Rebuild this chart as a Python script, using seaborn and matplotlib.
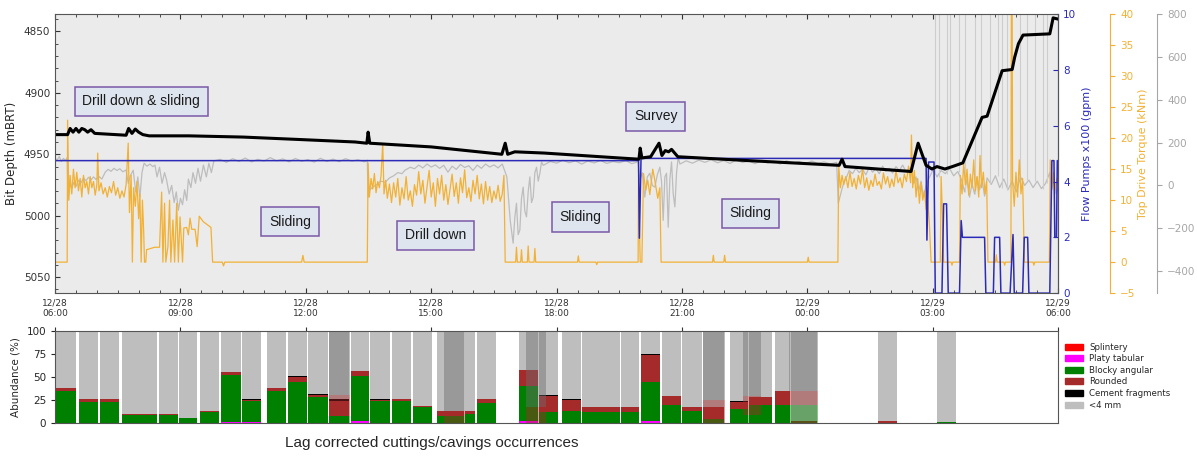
"""
Drilling log: bit depth, flow, torque and rotary traces with cuttings/cavings abundance
"""

import numpy as np
import matplotlib
matplotlib.use("Agg")
import matplotlib.pyplot as plt
import matplotlib.dates as mdates
from matplotlib.patches import Patch
from matplotlib.ticker import MultipleLocator
import seaborn as sns

sns.set_style("ticks")
plt.rcParams['font.family'] = ['DejaVu Sans']

# ---------------------------------------------------------------
# Data (hours after 12/28 06:00, value)
# ---------------------------------------------------------------
depth_pts = [(0.00, 4934), (0.30, 4934), (0.36, 4929), (0.43, 4932), (0.50, 4929), (0.57, 4932),
             (0.64, 4929), (0.71, 4930), (0.78, 4932), (0.86, 4930), (0.95, 4933), (1.70, 4934.5),
             (1.76, 4929), (1.84, 4933), (1.92, 4929.5), (2.00, 4932), (2.10, 4934), (2.25, 4935),
             (3.20, 4935), (4.50, 4936), (5.86, 4938), (7.18, 4940), (7.46, 4941), (7.49, 4932),
             (7.53, 4941), (9.00, 4944), (10.69, 4950), (10.77, 4941), (10.83, 4950), (11.00, 4948),
             (11.70, 4949), (13.50, 4953), (13.97, 4954), (14.00, 4945), (14.04, 4953), (14.25, 4952),
             (14.45, 4941), (14.52, 4951), (14.60, 4947), (14.68, 4948), (14.75, 4946), (14.90, 4952),
             (16.50, 4955), (18.76, 4959), (18.83, 4954), (18.90, 4960), (20.48, 4964), (20.65, 4941),
             (20.84, 4959), (20.98, 4962), (21.10, 4960), (21.29, 4962), (21.47, 4960), (21.72, 4957),
             (22.18, 4920), (22.30, 4919), (22.66, 4882), (22.90, 4881), (22.96, 4871), (23.05, 4860),
             (23.16, 4853), (23.80, 4852), (23.88, 4839), (24.00, 4840)]

flow_pts = [(0.00, 4.75), (13.96, 4.75), (13.98, 1.97), (14.02, 4.83), (20.84, 4.83), (20.86, 1.9),
            (20.90, 4.7), (21.03, 4.7), (21.06, 0.0), (21.22, 0.0), (21.26, 3.2), (21.33, 3.2),
            (21.37, 0.0), (21.64, 0.0), (21.68, 2.6), (21.71, 2.0), (22.24, 2.0), (22.27, 0.0),
            (22.45, 0.0), (22.48, 2.0), (22.60, 2.0), (22.63, 0.0), (22.85, 0.0), (22.92, 2.1),
            (22.95, 0.0), (23.15, 0.0), (23.19, 2.0), (23.27, 2.0), (23.30, 0.0), (23.80, 0.0),
            (23.85, 4.75), (23.90, 4.75), (23.92, 2.0), (23.96, 2.0), (23.98, 4.75), (24.00, 4.75)]

torque_pts = [(0.00, 0.0), (0.29, 0.0), (0.30, 22.9), (0.33, 10.0), (0.36, 14.0), (0.40, 11.0),
              (0.44, 15.0), (0.48, 12.0), (0.52, 14.5), (0.56, 11.5), (0.60, 13.5), (0.64, 10.5),
              (0.68, 14.0), (0.72, 12.0), (0.76, 13.0), (0.80, 11.0), (0.84, 13.8), (0.88, 12.0),
              (0.92, 13.0), (0.96, 10.8), (1.00, 12.5), (1.02, 17.6), (1.05, 11.5), (1.10, 12.8),
              (1.15, 11.0), (1.20, 12.0), (1.25, 10.5), (1.30, 12.2), (1.35, 11.2), (1.40, 13.0),
              (1.45, 10.8), (1.50, 12.0), (1.55, 10.3), (1.60, 11.5), (1.65, 10.5), (1.70, 12.5),
              (1.75, 19.2), (1.78, 8.0), (1.82, 14.0), (1.85, 0.0), (1.88, 12.0), (1.92, 9.0),
              (1.96, 13.0), (2.00, 7.0), (2.03, 11.0), (2.06, 0.0), (2.09, 10.0), (2.12, 5.0),
              (2.14, 0.0), (2.17, 0.0), (2.19, 2.0), (2.38, 2.4), (2.50, 2.4), (2.55, 11.3),
              (2.58, 0.0), (2.62, 9.5), (2.65, 0.0), (2.70, 2.5), (2.74, 10.0), (2.77, 0.0),
              (2.82, 6.8), (2.86, 0.0), (2.91, 9.5), (2.95, 0.0), (2.99, 7.3), (3.05, 0.0),
              (3.08, 5.5), (3.15, 5.6), (3.19, 4.4), (3.23, 7.1), (3.27, 5.3), (3.35, 5.3),
              (3.40, 2.5), (3.45, 7.4), (3.55, 6.5), (3.65, 6.0), (3.73, 5.6), (3.77, 0.0),
              (4.00, 0.0), (4.03, -0.6), (4.06, 0.0), (5.90, 0.0), (5.93, 1.1), (5.96, 0.0),
              (7.47, 0.0), (7.49, 16.0), (7.52, 10.5), (7.56, 13.5), (7.60, 11.8), (7.64, 14.3),
              (7.68, 11.2), (7.72, 13.0), (7.76, 12.0), (7.80, 14.0), (7.84, 19.1), (7.87, 11.0),
              (7.91, 13.2), (7.95, 10.3), (8.00, 12.6), (8.05, 9.6), (8.10, 12.8), (8.15, 10.5),
              (8.20, 13.5), (8.25, 9.2), (8.30, 12.0), (8.35, 10.2), (8.40, 13.8), (8.45, 10.0),
              (8.50, 11.5), (8.55, 9.0), (8.60, 12.5), (8.65, 10.8), (8.70, 14.6), (8.75, 11.0),
              (8.80, 13.2), (8.85, 9.5), (8.90, 12.2), (8.95, 14.8), (9.00, 10.5), (9.05, 12.8),
              (9.10, 9.0), (9.15, 13.5), (9.20, 11.0), (9.25, 14.0), (9.30, 10.0), (9.35, 12.5),
              (9.40, 9.3), (9.45, 11.8), (9.50, 14.2), (9.55, 10.6), (9.60, 12.8), (9.65, 9.5),
              (9.70, 13.6), (9.75, 11.2), (9.80, 14.9), (9.85, 10.4), (9.90, 12.0), (9.95, 9.8),
              (10.00, 13.2), (10.05, 11.0), (10.10, 14.0), (10.15, 10.2), (10.20, 12.6), (10.25, 9.4),
              (10.30, 13.0), (10.35, 10.0), (10.40, 12.2), (10.45, 9.6), (10.50, 11.5), (10.55, 10.2),
              (10.60, 12.4), (10.65, 9.8), (10.70, 11.0), (10.74, 14.0), (10.77, 0.0), (11.02, 0.0),
              (11.04, 2.4), (11.06, 0.0), (11.14, 0.0), (11.16, 2.0), (11.18, 0.0), (11.30, 0.0),
              (11.32, 2.6), (11.34, 0.0), (11.46, 0.0), (11.48, 2.2), (11.50, 0.0), (12.50, 0.0),
              (12.52, 1.0), (12.54, 0.0), (12.94, 0.0), (12.96, -0.4), (12.98, 0.0), (13.95, 0.0),
              (13.96, 13.2), (14.00, 0.0), (14.04, 0.0), (14.08, 14.3), (14.13, 11.6), (14.18, 13.2),
              (14.23, 10.9), (14.30, 15.0), (14.35, 13.2), (14.42, 10.3), (14.47, 12.0), (14.50, 0.0),
              (15.73, 0.0), (15.75, 1.1), (15.77, 0.0), (16.00, 0.0), (16.02, 1.1), (16.04, 0.0),
              (18.00, 0.0), (18.02, 0.8), (18.04, 0.0), (18.73, 0.0), (18.75, 15.5), (18.79, 12.0),
              (18.83, 14.0), (18.87, 12.5), (18.92, 13.8), (18.97, 12.0), (19.02, 14.5), (19.07, 12.2),
              (19.12, 13.5), (19.17, 11.8), (19.22, 14.0), (19.27, 12.6), (19.32, 15.0), (19.37, 12.0),
              (19.42, 13.6), (19.47, 11.6), (19.52, 13.2), (19.57, 12.2), (19.62, 14.2), (19.67, 12.4),
              (19.72, 13.0), (19.77, 11.8), (19.82, 14.4), (19.87, 12.6), (19.92, 13.8), (19.97, 12.0),
              (20.02, 13.4), (20.07, 12.2), (20.12, 14.8), (20.17, 12.8), (20.22, 13.6), (20.27, 12.0),
              (20.32, 14.2), (20.37, 13.0), (20.42, 15.5), (20.47, 12.8), (20.49, 20.5), (20.52, 12.0),
              (20.56, 14.8), (20.60, 10.5), (20.64, 13.5), (20.68, 9.5), (20.72, 12.8), (20.76, 10.0),
              (20.80, 11.5), (20.84, 8.5), (20.88, 10.0), (20.92, 6.0), (20.96, 0.0), (21.18, 0.0),
              (21.20, 13.8), (21.23, 8.0), (21.26, 0.0), (21.44, 0.0), (21.46, -0.5), (21.48, 0.0),
              (21.64, 0.0), (21.66, 14.0), (21.70, 11.0), (21.74, 16.0), (21.78, 12.5), (21.82, 15.0),
              (21.86, 10.8), (21.90, 14.2), (21.94, 12.0), (21.98, 16.5), (22.02, 11.5), (22.06, 13.8),
              (22.10, 10.5), (22.13, 17.2), (22.17, 12.0), (22.21, 14.5), (22.25, 11.0), (22.29, 13.0),
              (22.32, 0.0), (22.50, 0.0), (22.52, 1.2), (22.54, 0.0), (22.70, 0.0), (22.72, -0.5),
              (22.74, 0.0), (22.87, 0.0), (22.88, 39.8), (22.90, 39.8), (22.91, 13.0), (22.95, 9.0),
              (22.99, 14.5), (23.03, 10.5), (23.07, 16.5), (23.11, 11.0), (23.15, 13.5), (23.19, 0.0),
              (23.40, 0.0), (23.42, -0.5), (23.44, 0.0), (23.79, 0.0), (23.81, 16.5), (23.85, 12.0),
              (23.89, 14.5), (23.93, 11.7), (23.97, 13.5), (24.00, 12.5)]

rpm_pts = [(0.00, 128), (0.05, 118), (0.10, 135), (0.15, 112), (0.20, 126), (0.25, 116), (0.29, 130),
           (0.31, -69), (0.35, 10), (0.40, -15), (0.45, 15), (0.50, -5), (0.56, 25), (0.62, 12),
           (0.68, 35), (0.74, 22), (0.80, 38), (0.86, 26), (0.92, 40), (0.98, 28), (1.05, 42),
           (1.12, 30), (1.20, 62), (1.27, 75), (1.34, 66), (1.41, 80), (1.48, 70), (1.55, 78),
           (1.62, 64), (1.70, 72), (1.75, 10), (1.80, 45), (1.87, 71), (1.93, -30), (1.98, 40),
           (2.03, -55), (2.08, 60), (2.13, 104), (2.20, 90), (2.27, 100), (2.34, 88), (2.39, 95),
           (2.44, 40), (2.50, 85), (2.56, 10), (2.62, 60), (2.67, 24), (2.73, -40), (2.79, 0),
           (2.85, -80), (2.90, -30), (2.95, -116), (3.00, -60), (3.05, -90), (3.10, -20), (3.15, -70),
           (3.19, 30), (3.25, -10), (3.30, 60), (3.36, 10), (3.42, 80), (3.48, 20), (3.55, 95),
           (3.62, 40), (3.68, 104), (3.74, 60), (3.80, 115), (3.95, 122), (4.10, 108), (4.25, 125),
           (4.40, 112), (4.55, 128), (4.70, 110), (4.85, 122), (5.00, 114), (5.15, 130), (5.30, 115),
           (5.45, 124), (5.60, 110), (5.75, 126), (5.90, 113), (6.05, 121), (6.20, 109), (6.35, 127),
           (6.50, 112), (6.65, 123), (6.80, 111), (6.95, 125), (7.10, 114), (7.25, 120), (7.40, 110),
           (7.47, 118), (7.49, -55), (7.53, -20), (7.60, -8), (7.70, 5), (7.80, 20), (7.90, 15),
           (8.00, 35), (8.10, 45), (8.20, 60), (8.30, 55), (8.37, 71), (8.50, 85), (8.60, 78),
           (8.70, 95), (8.80, 82), (8.90, 100), (9.00, 86), (9.10, 96), (9.20, 80), (9.30, 94),
           (9.40, 62), (9.50, 90), (9.60, 75), (9.70, 98), (9.80, 84), (9.90, 92), (10.00, 70),
           (10.10, 95), (10.20, 80), (10.30, 100), (10.40, 86), (10.50, 96), (10.60, 82), (10.70, 100),
           (10.81, 40), (10.89, -163), (10.96, -270), (11.00, -150), (11.04, -83), (11.08, -230),
           (11.12, -209), (11.16, -60), (11.20, -8), (11.24, -120), (11.28, -147), (11.32, -30),
           (11.36, 40), (11.40, -80), (11.44, -55), (11.48, 60), (11.52, 85), (11.56, 20), (11.60, 57),
           (11.64, 110), (11.68, 94), (11.85, 112), (12.00, 104), (12.15, 118), (12.30, 106),
           (12.45, 115), (12.60, 100), (12.75, 114), (12.90, 105), (13.05, 117), (13.20, 103),
           (13.35, 112), (13.50, 106), (13.65, 116), (13.80, 102), (13.95, 110), (13.99, 24),
           (14.05, 60), (14.11, -55), (14.17, 40), (14.23, 57), (14.29, 0), (14.35, -8), (14.41, 50),
           (14.47, 85), (14.51, 20), (14.55, -163), (14.59, 40), (14.63, 57), (14.67, -195),
           (14.71, 30), (14.75, 110), (14.79, -40), (14.83, -100), (14.87, 60), (14.91, 132),
           (14.95, 100), (15.10, 115), (15.25, 104), (15.40, 118), (15.55, 108), (15.70, 120),
           (15.85, 106), (16.00, 116), (16.15, 103), (16.30, 119), (16.45, 107), (16.60, 114),
           (16.75, 102), (16.90, 117), (17.05, 105), (17.20, 113), (17.35, 100), (17.50, 116),
           (17.65, 104), (17.80, 112), (17.95, 101), (18.10, 114), (18.25, 103), (18.40, 110),
           (18.55, 100), (18.70, 108), (18.74, -83), (18.82, -22), (18.88, 20), (18.94, 40),
           (19.00, 70), (19.08, 55), (19.16, 80), (19.24, 60), (19.32, 75), (19.40, 50), (19.48, 85),
           (19.56, 62), (19.64, 78), (19.72, 55), (19.80, 90), (19.88, 66), (19.96, 80), (20.04, 58),
           (20.12, 88), (20.20, 70), (20.28, 95), (20.36, 64), (20.44, 80), (20.49, 57), (20.55, 10),
           (20.60, 40), (20.66, -30), (20.72, 20), (20.78, -55), (20.84, 0), (20.90, 30), (20.95, 50),
           (21.00, 70), (21.05, 60), (21.10, 40), (21.20, 70), (21.30, 55), (21.40, 80), (21.50, 45),
           (21.60, 65), (21.70, 20), (21.76, -30), (21.82, 30), (21.88, -55), (21.94, 10), (22.00, -40),
           (22.06, 40), (22.12, -20), (22.18, 25), (22.24, -50), (22.30, 35), (22.40, 5), (22.50, 45),
           (22.60, -10), (22.70, 30), (22.80, -20), (22.90, 20), (23.00, -30), (23.10, 40), (23.20, 0),
           (23.30, 25), (23.40, -10), (23.50, 20), (23.60, -15), (23.70, 10), (23.80, 60), (23.85, -20),
           (23.90, 30), (23.95, -40), (24.00, -10)]

# rotary spikes running off the top of the scale
rpm_spike_hours = [21.05, 21.15, 21.34, 21.41, 21.62, 21.78, 22.01, 22.15, 22.37, 22.55,
                   22.66, 22.78, 23.09, 23.25, 23.45, 23.64, 23.73]
rpm_spike_base = [60, 40, 55, 80, 65, -30, -40, 25, 5, 45, -10, -20, 40, 25, 20, -15, 10]

# activity annotations
activity_hours = [2.06, 5.62, 9.10, 12.57, 14.37, 16.64]
activity_depth = [4907, 5005, 5016, 5001, 4919, 4998]
activity_labels = ['Drill down & sliding', 'Sliding', 'Drill down', 'Sliding', 'Survey', 'Sliding']

# cuttings/cavings samples (hours after 06:00), abundance %
bar_start = [0.00, 0.57, 1.08, 1.60, 2.02, 2.49, 2.97, 3.47, 3.97, 4.47, 5.07, 5.57, 6.05, 6.55,
             7.08, 7.54, 8.06, 8.56, 9.13, 9.80, 10.10, 11.10, 11.58, 12.13, 12.61, 13.05, 13.53,
             14.02, 14.52, 15.00, 15.50, 16.15, 16.60, 17.22, 17.60, 19.70, 21.10]
bar_end = [0.53, 1.05, 1.55, 2.05, 2.46, 2.97, 3.42, 3.95, 4.47, 4.95, 5.55, 6.05, 6.55, 7.06,
           7.54, 8.04, 8.54, 9.04, 9.80, 10.07, 10.57, 11.58, 12.06, 12.61, 13.07, 13.55, 14.00,
           14.50, 15.00, 15.50, 16.03, 16.60, 17.17, 17.60, 18.25, 20.17, 21.58]
platy = [0, 0, 0, 0, 0, 0, 0, 0, 1, 1, 0, 0, 0, 0, 2.5, 0, 0, 0, 0, 0, 0, 2, 0, 0, 0, 0, 0,
         2, 0, 0, 0, 0, 0, 0, 0, 0, 0]
blocky = [35, 23, 23, 9, 9, 9, 6, 12, 51, 23, 35, 45, 28, 8, 49, 24, 24, 18, 8, 10, 22, 38, 12,
          13, 12, 12, 12, 43, 20, 13, 5, 15, 20, 20, 0, 0, 1]
rounded = [3, 3, 3, 1, 1, 1, 0, 1, 4, 1, 3, 5, 3, 16, 5, 1, 2, 1, 5, 3, 4, 18, 18, 12, 6, 6, 6,
           29, 10, 5, 13, 8, 8, 15, 2, 2, 0]
cement = [0, 0, 0, 0, 0, 0, 0, 0, 0, 1, 0, 1, 0.5, 2, 0, 1, 0, 0, 0, 0, 0, 0, 1, 1, 0, 0, 0,
          1, 0, 0, 0, 1, 0.5, 0.5, 0, 0, 0]

# overlapping samples (drawn translucent on top)
ovl_start = [6.55, 9.30, 11.27, 15.50, 16.45, 17.57]
ovl_end = [7.06, 9.80, 11.75, 16.03, 16.90, 18.25]
ovl_blocky = [8, 0, 0, 0, 9, 20]
ovl_rounded = [23, 13, 18, 25, 21, 15]

# ---------------------------------------------------------------
# Figure
# ---------------------------------------------------------------
t0 = mdates.date2num(np.datetime64('2017-12-28T06:00'))


def hours_to_num(h):
    return t0 + np.asarray(h, dtype=float) / 24.0


def split(pts):
    h, v = zip(*pts)
    return hours_to_num(h), np.array(v, dtype=float)


fig = plt.figure(figsize=(11.97, 4.58), dpi=100)
ax = fig.add_axes([0.046, 0.360, 0.838, 0.609])
ax_b = fig.add_axes([0.046, 0.076, 0.838, 0.201])

ax_flow = ax.twinx()
ax_tq = ax.twinx()
ax_rpm = ax.twinx()
ax_tq.spines['right'].set_position(('axes', 1.052))
ax_rpm.spines['right'].set_position(('axes', 1.099))

# stacking: rpm (bottom, carries background) -> torque -> flow -> depth
ax_rpm.set_zorder(1)
ax_tq.set_zorder(2)
ax_flow.set_zorder(3)
ax.set_zorder(4)
ax.patch.set_visible(False)
ax_rpm.patch.set_visible(True)
ax_rpm.patch.set_facecolor('#ebebeb')

blue = '#2b2bb8'
orange = '#f2b134'
grey_line = '#bdbdbd'
grey_axis = '#a6a6a6'

x, y = split(rpm_pts)
sns.lineplot(x=x, y=y, ax=ax_rpm, sort=False, estimator=None, color=grey_line, lw=0.9)
spike_x = hours_to_num(rpm_spike_hours)
ax_rpm.vlines(spike_x, rpm_spike_base, 900, color='#cdcdcd', lw=0.8)

x, y = split(torque_pts)
sns.lineplot(x=x, y=y, ax=ax_tq, sort=False, estimator=None, color=orange, lw=0.9)

x, y = split(flow_pts)
sns.lineplot(x=x, y=y, ax=ax_flow, sort=False, estimator=None, color=blue, lw=1.1)

x, y = split(depth_pts)
sns.lineplot(x=x, y=y, ax=ax, sort=False, estimator=None, color='black', lw=2.2)

# limits
xlim = (t0, t0 + 1.0)
ax.set_xlim(xlim)
ax.set_ylim(5063, 4836)
ax_flow.set_ylim(0, 10)
ax_tq.set_ylim(-5, 40)
ax_rpm.set_ylim(-503, 800)

# host axis styling
ax.xaxis.set_major_locator(mdates.HourLocator(byhour=range(0, 24, 3)))
ax.xaxis.set_minor_locator(mdates.MinuteLocator(byminute=[0, 30]))
ax.xaxis.set_major_formatter(mdates.DateFormatter('%m/%d\n%H:%M'))
ax.yaxis.set_major_locator(MultipleLocator(50))
ax.yaxis.set_minor_locator(MultipleLocator(10))
ax.tick_params(axis='both', which='both', direction='in', top=True, colors='#333333')
ax.tick_params(axis='x', labelsize=6.5, pad=4)
ax.tick_params(axis='y', labelsize=7.5)
ax.set_xlabel('')
ax.set_ylabel('Bit Depth (mBRT)', fontsize=8.5)
for s in ax.spines.values():
    s.set_color('#555555')

ax_flow.set_ylabel('Flow Pumps x100 (gpm)', color=blue, fontsize=8)
ax_flow.tick_params(axis='y', colors=blue, labelsize=7.5, direction='in')
ax_flow.spines['right'].set_color(blue)
ax_flow.yaxis.set_major_locator(MultipleLocator(2))

ax_tq.set_ylabel('Top Drive Torque (kNm)', color=orange, fontsize=8, labelpad=2)
ax_tq.tick_params(axis='y', colors=orange, labelsize=7.5)
ax_tq.spines['right'].set_color(orange)
ax_tq.yaxis.set_major_locator(MultipleLocator(5))

ax_rpm.set_ylabel('')
ax_rpm.tick_params(axis='y', colors=grey_axis, labelsize=7.5)
ax_rpm.spines['right'].set_color(grey_axis)
ax_rpm.yaxis.set_major_locator(MultipleLocator(200))

for a in (ax_flow, ax_tq, ax_rpm):
    a.set_xlabel('')
    for side in ('left', 'top', 'bottom'):
        a.spines[side].set_visible(False)

# activity boxes
for h, d, txt in zip(activity_hours, activity_depth, activity_labels):
    ax.text(hours_to_num(h), d, txt, ha='center', va='center', fontsize=10,
            family='Liberation Sans', color='#1a1a1a', zorder=10,
            bbox=dict(boxstyle='square,pad=0.55', facecolor='#dfe5ef', edgecolor='#7a58a6', lw=1.1))

# ---------------------------------------------------------------
# Cuttings / cavings abundance
# ---------------------------------------------------------------
col_splintery = '#ff0000'
col_platy = '#ff00ff'
col_blocky = '#008000'
col_rounded = '#a52a2a'
col_cement = '#000000'
col_fine = '#bebebe'
BAR_GAP = 0.025  # hours of white left between neighbouring samples


def draw_stack(axis, start, end, layers, top_colour, alpha=1.0, gap=BAR_GAP):
    left = hours_to_num(start)
    width = (np.asarray(end, dtype=float) - np.asarray(start, dtype=float) - gap) / 24.0
    bottom = np.zeros(len(start))
    for vals, col in layers:
        vals = np.asarray(vals, dtype=float)
        axis.bar(left, vals, width, bottom=bottom, align='edge', color=col,
                 alpha=alpha, linewidth=0)
        bottom = bottom + vals
    axis.bar(left, 100 - bottom, width, bottom=bottom, align='edge', color=top_colour,
             alpha=alpha, linewidth=0)


draw_stack(ax_b, bar_start, bar_end,
           [(platy, col_platy), (blocky, col_blocky), (rounded, col_rounded), (cement, col_cement)],
           col_fine)
draw_stack(ax_b, ovl_start, ovl_end,
           [(ovl_blocky, col_blocky), (ovl_rounded, col_rounded)],
           '#6e6e6e', alpha=0.45, gap=0.0)

ax_b.set_xlim(xlim)
ax_b.set_ylim(0, 100)
ax_b.set_yticks([0, 25, 50, 75, 100])
ax_b.set_ylabel('Abundance (%)', fontsize=7.5)
ax_b.xaxis.tick_top()
ax_b.xaxis.set_major_locator(mdates.HourLocator(byhour=range(0, 24, 3)))
ax_b.tick_params(axis='x', labeltop=False, labelbottom=False, length=3, colors='#333333')
ax_b.tick_params(axis='y', labelsize=7.5, length=3)
for s in ax_b.spines.values():
    s.set_color('#555555')

handles = [Patch(color=col_splintery, label='Splintery'),
           Patch(color=col_platy, label='Platy tabular'),
           Patch(color=col_blocky, label='Blocky angular'),
           Patch(color=col_rounded, label='Rounded'),
           Patch(color=col_cement, label='Cement fragments'),
           Patch(color=col_fine, label='<4 mm')]
ax_b.legend(handles=handles, loc='upper left', bbox_to_anchor=(1.002, 0.93), frameon=False,
            fontsize=6.2, handlelength=2.0, handleheight=0.7, labelspacing=0.3,
            borderaxespad=0.2)

fig.text(0.361, 0.033, 'Lag corrected cuttings/cavings occurrences', ha='center', va='center',
         fontsize=11, family='Liberation Sans')

fig.savefig('out.png', dpi=100)
